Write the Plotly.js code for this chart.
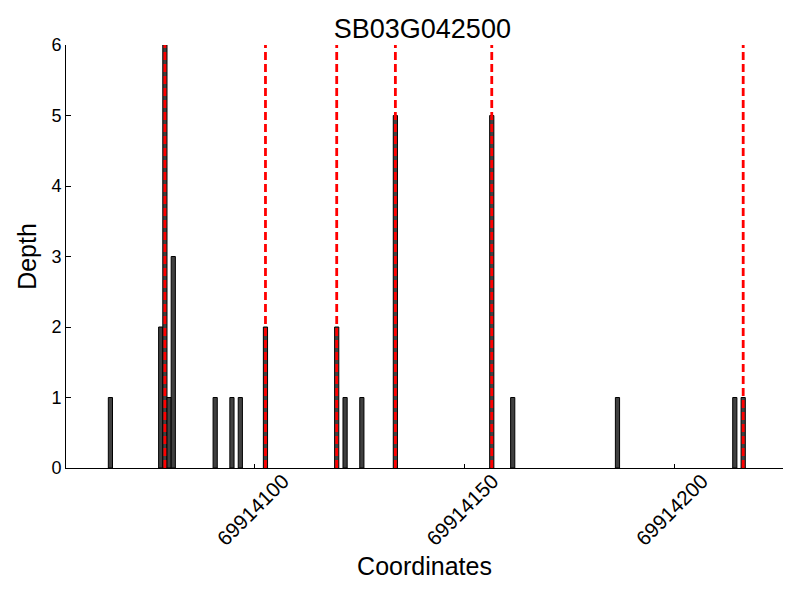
<!DOCTYPE html>
<html>
<head>
<meta charset="utf-8">
<script src="https://cdn.plot.ly/plotly-3.0.1.min.js"></script>
<style>html,body{margin:0;padding:0;background:#fff;}#chart{width:800px;height:600px;}</style>
</head>
<body>
<div id="chart"></div>
<script>
// Bin start coordinates (1 bp wide bins) and read depth
var binStarts = [69914065, 69914077, 69914078, 69914079, 69914080, 69914090, 69914094, 69914096,
                 69914102, 69914119, 69914121, 69914125, 69914133, 69914156, 69914161, 69914186,
                 69914214, 69914216];
var depths    = [1, 2, 6, 1, 3, 1, 1, 1, 2, 2, 1, 1, 5, 5, 1, 1, 1, 1];
// Positions of the marked sites (red dashed lines)
var sitePositions = [69914078.5, 69914102.5, 69914119.5, 69914133.5, 69914156.5, 69914216.5];
var xTickVals = [69914100, 69914150, 69914200];
var yTickVals = [0, 1, 2, 3, 4, 5, 6];
var titleText = 'SB03G042500';

var lineX = [], lineY = [];
sitePositions.forEach(function (p) { lineX.push(p, p, null); lineY.push(0, 6, null); });

var data = [
  {
    type: 'bar', x: binStarts, y: depths, offset: 0, width: 1,
    marker: {color: '#404040', line: {color: '#000000', width: 1}},
    hoverinfo: 'x+y'
  },
  {
    type: 'scatter', mode: 'lines', x: lineX, y: lineY,
    line: {color: '#ff0000', width: 2.8, dash: '8px,4px'},
    hoverinfo: 'skip'
  }
];

var font = 'Liberation Sans, Arial, sans-serif';
var layout = {
  width: 800, height: 600,
  margin: {l: 66, r: 17, t: 45, b: 132},
  paper_bgcolor: '#fff', plot_bgcolor: '#fff',
  showlegend: false,
  font: {family: font, color: '#000', size: 18},
  title: {text: titleText, x: 0.497, xref: 'paper', xanchor: 'center', y: 0.952, yanchor: 'middle',
          font: {family: font, size: 27, color: '#000'}},
  xaxis: {
    range: [69914054.9, 69914226],
    tickvals: xTickVals, ticktext: xTickVals.map(String), tickangle: -45,
    ticks: 'inside', ticklen: 4, tickcolor: '#000', tickwidth: 1,
    ticklabelshift: 28, ticklabelstandoff: -8,
    showline: true, linecolor: '#000', linewidth: 1, mirror: false,
    showgrid: false, zeroline: false,
    tickfont: {family: font, size: 20.5},
    title: {text: 'Coordinates', font: {family: font, size: 25}, standoff: 8}
  },
  yaxis: {
    range: [0, 6], tickvals: yTickVals,
    ticks: 'inside', ticklen: 5, tickcolor: '#000', tickwidth: 1,
    showline: true, linecolor: '#000', linewidth: 1,
    showgrid: false, zeroline: false,
    tickfont: {family: font, size: 18},
    title: {text: 'Depth', font: {family: font, size: 25}, standoff: 7}
  },
  bargap: 0
};

Plotly.newPlot('chart', data, layout, {displayModeBar: false, staticPlot: true});
</script>
</body>
</html>
